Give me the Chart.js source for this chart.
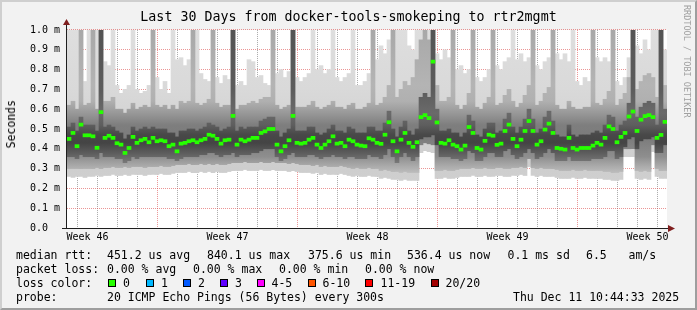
<!DOCTYPE html>
<html>
<head>
<meta charset="utf-8">
<title>Last 30 Days from docker-tools-smokeping to rtr2mgmt</title>
<script src="https://cdn.jsdelivr.net/npm/chart.js@4.4.1/dist/chart.umd.min.js"></script>
<style>
  html, body { margin:0; padding:0; background:#f2f2f2; }
  #wrap { position:relative; width:697px; height:310px; background:#f2f2f2; overflow:hidden;
          font-family:'DejaVu Sans Mono', monospace; color:#000; }
  #chart { position:absolute; left:0; top:0; }
  .t { position:absolute; white-space:pre; font-size:11.5px; line-height:14px; }
  .box { position:absolute; width:6px; height:6px; border:1px solid #000; top:279px; }
  #frame { position:absolute; left:0; top:0; width:697px; height:310px; box-sizing:border-box;
           border-style:solid; border-width:2px; border-color:#cfcfcf #9e9e9e #9e9e9e #cfcfcf; pointer-events:none; }
  #ylabel { position:absolute; left:4px; top:100px; writing-mode:vertical-rl; transform:rotate(180deg);
            font-size:11.5px; line-height:14px; white-space:pre; }
  #wm { position:absolute; left:682px; top:5px; writing-mode:vertical-rl; font-size:8.5px; line-height:10px;
        color:#a0a0a0; white-space:pre; }
</style>
</head>
<body>
<div id="wrap">
  <canvas id="chart" width="697" height="310"></canvas>
  <div id="ylabel">Seconds</div>
  <div id="wm">RRDTOOL / TOBI OETIKER</div>

  <div class="t" style="left:16px;top:247.5px">median rtt:</div>
  <div class="t" style="left:107px;top:247.5px">451.2 us avg</div>
  <div class="t" style="left:207px;top:247.5px">840.1 us max</div>
  <div class="t" style="left:308px;top:247.5px">375.6 us min</div>
  <div class="t" style="left:407px;top:247.5px">536.4 us now</div>
  <div class="t" style="left:507.5px;top:247.5px">0.1 ms sd</div>
  <div class="t" style="left:586px;top:247.5px">6.5</div>
  <div class="t" style="left:628.5px;top:247.5px">am/s</div>

  <div class="t" style="left:16px;top:261.5px">packet loss:</div>
  <div class="t" style="left:107px;top:261.5px">0.00 % avg</div>
  <div class="t" style="left:193px;top:261.5px">0.00 % max</div>
  <div class="t" style="left:279px;top:261.5px">0.00 % min</div>
  <div class="t" style="left:365px;top:261.5px">0.00 % now</div>

  <div class="t" style="left:16px;top:275.5px">loss color:</div>
  <div id="lossLegend"></div>

  <div class="t" style="left:16px;top:289.5px">probe:</div>
  <div class="t" style="left:107px;top:289.5px">20 ICMP Echo Pings (56 Bytes) every 300s</div>
  <div class="t" style="left:513px;top:289.5px">Thu Dec 11 10:44:33 2025</div>
  <div id="frame"></div>
</div>
<script>
// ---------------- data (ms) : one column per 4.8 h, 30 days ----------------
const medianRtt = [
 0.450,0.480,0.413,0.522,0.468,0.468,0.463,0.405,0.585,0.455,
 0.466,0.455,0.428,0.421,0.379,0.404,0.460,0.430,0.443,0.450,
 0.433,0.455,0.438,0.443,0.438,0.413,0.421,0.387,0.426,0.430,
 0.438,0.443,0.433,0.443,0.450,0.471,0.466,0.450,0.426,0.443,
 0.446,0.566,0.421,0.446,0.438,0.446,0.455,0.455,0.480,0.488,
 0.500,0.500,0.421,0.387,0.413,0.443,0.566,0.430,0.426,0.430,
 0.446,0.455,0.421,0.404,0.421,0.438,0.463,0.426,0.430,0.413,
 0.446,0.438,0.421,0.416,0.413,0.453,0.446,0.430,0.425,0.471,
 0.534,0.438,0.387,0.446,0.480,0.430,0.410,0.433,0.560,0.570,
 0.555,0.840,0.533,0.430,0.426,0.443,0.421,0.413,0.396,0.416,
 0.510,0.480,0.404,0.396,0.440,0.471,0.466,0.420,0.426,0.490,
 0.522,0.450,0.413,0.446,0.490,0.540,0.490,0.421,0.438,0.497,
 0.527,0.480,0.404,0.400,0.396,0.455,0.404,0.396,0.404,0.404,
 0.404,0.416,0.430,0.421,0.455,0.513,0.500,0.433,0.460,0.480,
 0.563,0.588,0.490,0.547,0.565,0.570,0.560,0.455,0.470,0.536];

// outer (light) smoke: fastest and slowest ping of each column
const smokeMin = [
 0.260,0.255,0.260,0.260,0.255,0.260,0.260,0.265,0.260,0.265,
 0.265,0.270,0.265,0.265,0.270,0.265,0.270,0.270,0.270,0.265,
 0.270,0.270,0.270,0.275,0.270,0.270,0.275,0.280,0.280,0.280,
 0.285,0.280,0.280,0.285,0.280,0.285,0.280,0.285,0.280,0.280,
 0.285,0.290,0.290,0.290,0.295,0.290,0.290,0.290,0.295,0.290,
 0.290,0.295,0.290,0.290,0.290,0.285,0.290,0.285,0.280,0.280,
 0.280,0.275,0.280,0.270,0.275,0.270,0.270,0.270,0.275,0.270,
 0.265,0.260,0.265,0.260,0.260,0.265,0.260,0.260,0.250,0.255,
 0.250,0.245,0.245,0.240,0.245,0.240,0.240,0.240,0.380,0.390,
 0.385,0.380,0.250,0.250,0.255,0.250,0.250,0.255,0.260,0.260,
 0.260,0.265,0.260,0.260,0.265,0.260,0.260,0.265,0.265,0.260,
 0.260,0.265,0.265,0.270,0.265,0.310,0.265,0.260,0.265,0.260,
 0.260,0.260,0.255,0.250,0.250,0.250,0.255,0.250,0.250,0.255,
 0.250,0.250,0.250,0.250,0.245,0.245,0.240,0.240,0.245,0.360,
 0.360,0.360,0.250,0.245,0.250,0.245,0.385,0.260,0.250,0.250];
const smokeMax = [
 1.05,1.05,1.05,1.05,0.74,1.05,1.05,1.05,1.05,0.84,
 0.82,1.05,0.72,0.68,0.70,0.72,1.05,0.70,0.68,0.69,
 0.72,1.05,0.76,0.70,0.74,0.68,1.05,0.85,0.86,0.82,
 0.85,1.05,1.05,0.78,0.75,0.74,1.05,0.76,0.73,0.77,
 0.75,1.05,0.72,0.74,0.72,0.85,0.84,0.76,0.77,0.73,
 0.72,1.05,0.78,0.80,0.76,0.79,1.05,0.76,0.74,0.76,
 0.78,1.05,0.80,0.82,0.78,0.80,1.05,0.76,0.74,0.76,
 0.78,1.05,0.72,0.72,0.74,0.78,1.05,0.85,0.92,0.88,
 0.95,1.05,1.05,1.05,1.05,0.92,0.90,1.05,1.05,1.05,
 1.05,1.05,0.88,0.85,0.90,0.86,1.05,0.80,0.82,0.78,
 0.80,1.05,0.76,0.74,0.76,0.80,1.05,0.82,0.80,0.84,
 0.86,1.05,0.85,0.88,0.84,0.86,1.05,0.82,0.80,0.84,
 0.86,1.05,0.88,0.85,0.88,0.84,1.05,0.74,0.72,0.76,
 0.74,1.05,0.86,0.84,0.86,0.84,1.05,0.74,0.72,0.76,
 0.86,1.05,0.92,0.88,0.95,0.90,1.05,1.05,1.05,0.90];

// middle smoke band
const smokeLo2 = [
 0.300,0.300,0.300,0.300,0.300,0.300,0.300,0.305,0.300,0.305,
 0.305,0.310,0.305,0.305,0.310,0.305,0.310,0.310,0.310,0.305,
 0.310,0.310,0.310,0.315,0.310,0.310,0.315,0.320,0.320,0.320,
 0.325,0.320,0.320,0.325,0.320,0.325,0.320,0.325,0.320,0.320,
 0.325,0.330,0.330,0.330,0.335,0.330,0.330,0.330,0.335,0.330,
 0.330,0.335,0.330,0.330,0.330,0.325,0.330,0.325,0.320,0.320,
 0.320,0.315,0.320,0.310,0.315,0.310,0.310,0.310,0.315,0.310,
 0.305,0.300,0.305,0.300,0.300,0.305,0.300,0.300,0.290,0.295,
 0.290,0.285,0.285,0.280,0.285,0.280,0.280,0.280,0.420,0.430,
 0.425,0.420,0.290,0.290,0.295,0.290,0.290,0.295,0.300,0.300,
 0.300,0.305,0.300,0.300,0.305,0.300,0.300,0.305,0.305,0.300,
 0.300,0.305,0.305,0.310,0.305,0.350,0.305,0.300,0.305,0.300,
 0.300,0.300,0.295,0.290,0.290,0.290,0.295,0.290,0.290,0.295,
 0.290,0.290,0.290,0.290,0.285,0.285,0.280,0.280,0.285,0.400,
 0.400,0.400,0.290,0.285,0.290,0.285,0.420,0.300,0.290,0.290];
const smokeHi2 = [
 0.62,0.64,0.60,1.05,0.62,0.63,1.05,0.60,1.05,0.64,
 0.64,0.66,0.60,0.60,0.58,0.60,0.63,0.60,0.61,0.62,
 0.61,1.05,0.62,0.61,0.62,0.60,0.62,0.60,0.64,0.63,
 0.64,1.05,0.63,0.62,0.63,0.65,1.05,0.63,0.61,0.62,
 0.62,1.05,0.60,0.62,0.62,0.63,0.64,0.63,0.65,0.66,
 0.66,1.05,0.62,0.60,0.61,0.62,1.05,0.61,0.61,0.61,
 0.62,0.64,0.61,0.60,0.61,0.62,0.64,0.61,0.61,0.60,
 0.62,0.63,0.60,0.60,0.61,0.63,1.05,0.62,0.63,0.66,
 0.72,1.05,0.66,0.70,0.74,0.72,0.76,0.85,0.95,1.05,
 0.95,1.05,0.72,0.64,0.64,0.66,1.05,0.62,0.60,0.62,
 0.68,1.05,0.61,0.60,0.63,0.66,1.05,0.62,0.63,0.67,
 0.70,0.64,0.61,0.63,0.67,0.72,1.05,0.62,0.64,0.68,
 0.71,1.05,0.62,0.60,0.60,0.64,0.61,0.60,0.60,0.61,
 0.61,1.05,0.63,0.62,0.65,0.69,1.05,0.62,0.65,0.68,
 0.76,1.05,0.70,0.74,0.77,0.78,0.76,0.66,1.05,0.72];

// dense (dark) core around the median
const coreLo = [
 0.36,0.36,0.35,0.37,0.36,0.36,0.36,0.35,0.38,0.36,
 0.36,0.36,0.35,0.35,0.33,0.34,0.36,0.35,0.36,0.36,
 0.36,0.36,0.36,0.36,0.36,0.35,0.35,0.34,0.35,0.36,
 0.36,0.36,0.36,0.37,0.37,0.38,0.38,0.37,0.36,0.37,
 0.37,0.38,0.36,0.37,0.37,0.37,0.38,0.38,0.39,0.40,
 0.40,0.40,0.36,0.34,0.35,0.37,0.38,0.36,0.36,0.36,
 0.37,0.37,0.36,0.35,0.36,0.36,0.37,0.36,0.36,0.35,
 0.36,0.36,0.35,0.35,0.35,0.37,0.36,0.36,0.35,0.37,
 0.40,0.36,0.33,0.36,0.38,0.36,0.34,0.36,0.45,0.46,
 0.46,0.47,0.42,0.36,0.36,0.36,0.35,0.35,0.34,0.35,
 0.39,0.38,0.34,0.34,0.36,0.38,0.38,0.36,0.36,0.39,
 0.40,0.37,0.35,0.36,0.38,0.40,0.38,0.35,0.36,0.38,
 0.40,0.38,0.34,0.34,0.34,0.36,0.34,0.34,0.34,0.34,
 0.34,0.35,0.35,0.35,0.36,0.39,0.39,0.35,0.36,0.41,
 0.45,0.46,0.40,0.44,0.45,0.45,0.46,0.38,0.38,0.42];
const coreHi = [
 0.51,0.53,0.49,0.56,0.52,0.52,0.52,0.49,1.05,0.51,
 0.52,0.51,0.49,0.48,0.45,0.47,0.51,0.49,0.50,0.51,
 0.50,0.51,0.50,0.50,0.50,0.48,0.48,0.46,0.49,0.49,
 0.50,0.50,0.49,0.50,0.51,0.53,0.52,0.51,0.49,0.50,
 0.51,1.05,0.49,0.51,0.50,0.51,0.51,0.51,0.54,0.55,
 0.56,0.56,0.49,0.46,0.48,0.50,1.05,0.49,0.49,0.49,
 0.51,0.51,0.48,0.47,0.48,0.50,0.52,0.49,0.49,0.48,
 0.51,0.50,0.48,0.48,0.48,0.51,0.51,0.49,0.49,0.53,
 0.59,0.50,0.46,0.51,0.54,0.49,0.47,0.50,0.66,0.68,
 0.66,1.05,0.60,0.49,0.49,0.50,0.48,0.48,0.46,0.48,
 0.57,0.54,0.47,0.46,0.50,0.53,0.53,0.48,0.49,0.55,
 0.58,0.51,0.48,0.51,0.55,0.60,0.55,0.48,0.50,0.56,
 0.59,0.54,0.47,0.46,0.46,0.52,0.47,0.46,0.47,0.47,
 0.47,0.48,0.49,0.48,0.52,0.57,0.56,0.49,0.52,0.54,
 0.63,1.05,0.56,0.61,0.63,0.64,0.63,0.52,1.05,0.60];

// axis / legend text
const chartTitle = 'Last 30 Days from docker-tools-smokeping to rtr2mgmt';
const weekTickLabels = ['Week 46', 'Week 47', 'Week 48', 'Week 49', 'Week 50'];
const weekTickHours  = [24.6, 192.6, 360.6, 528.6, 696.6];   // hours after graph start
const lossLabels = ['0', '1', '2', '3', '4-5', '6-10', '11-19', '20/20'];
const lossColors = ['#26ff00', '#00b8ff', '#0059ff', '#5e00ff', '#ff00ff', '#ff5500', '#ff0000', '#a10000'];

// time axis setup
const stepHours = 4.8, spanHours = 720;
const firstMidnightHour = 12.4, weekStartDay = 4;
const colHours = medianRtt.map((_, i) => (i + 0.5) * stepHours);

// ---------------- loss colour legend (HTML text) ----------------
(function () {
  const boxX = [108, 145.5, 182.5, 219.5, 256.5, 307.5, 365, 431];
  const txtX = [123, 161, 198, 235, 271.5, 322.5, 380.5, 445.5];
  const host = document.getElementById('lossLegend');
  lossLabels.forEach((lab, i) => {
    const b = document.createElement('div');
    b.className = 'box'; b.style.left = boxX[i] + 'px'; b.style.background = lossColors[i];
    host.appendChild(b);
    const t = document.createElement('div');
    t.className = 't'; t.style.left = txtX[i] + 'px'; t.style.top = '275.5px'; t.textContent = lab;
    host.appendChild(t);
  });
})();

// ---------------- chart ----------------
const MONO = "'DejaVu Sans Mono', monospace";
const STOP_LIGHT = [[0, '#d2d2d2'], [0.3, '#cecece'], [0.5, '#d2d2d2'], [0.7, '#d9d9d9'], [1, '#dedede']];
const STOP_MID = [[0, '#c0c0c0'], [0.28, '#bcbcbc'], [0.32, '#a6a6a6'], [0.36, '#8e8e8e'], [0.45, '#7c7c7c'],
                  [0.52, '#7e7e7e'], [0.58, '#989898'], [0.64, '#b0b0b0'], [0.72, '#b4b4b4'], [1, '#a8a8a8']];
const STOP_DARK = [[0, '#787878'], [0.33, '#787878'], [0.38, '#5c5c5c'], [0.43, '#444444'], [0.47, '#484848'],
                   [0.52, '#5e5e5e'], [0.58, '#6a6a6a'], [0.7, '#5c5c5c'], [1, '#545454']];

function vGrad(chart, stops) {
  const { ctx, chartArea, scales } = chart;
  if (!chartArea || !scales.y) return stops[Math.floor(stops.length / 2)][1];
  const y0 = scales.y.getPixelForValue(0), y1 = scales.y.getPixelForValue(1);
  const g = ctx.createLinearGradient(0, y0, 0, y1);
  stops.forEach(([v, c]) => g.addColorStop(v, c));
  return g;
}

const pairs = (lo, hi) => lo.map((v, i) => ({ x: colHours[i], y: [v, hi[i]] }));
const medianHalf = 0.0078;

const xTickHours = [];
for (let h = firstMidnightHour; h < spanHours; h += 24) xTickHours.push(Math.round(h * 1000) / 1000);
weekTickHours.forEach(h => xTickHours.push(h));

function xGridColor(ctx) {
  const v = ctx.tick ? ctx.tick.value : NaN;
  if (weekTickHours.includes(v)) return 'rgba(0,0,0,0)';
  const day = Math.round((v - firstMidnightHour) / 24);
  return (day - weekStartDay) % 7 === 0 ? 'rgba(222,79,79,0.6)' : 'rgba(143,143,143,0.75)';
}

const plotBg = {
  id: 'plotBg',
  beforeDraw(chart) {
    const { ctx, chartArea: a } = chart;
    ctx.save(); ctx.fillStyle = '#ffffff';
    ctx.fillRect(a.left, a.top, a.right - a.left, a.bottom - a.top);
    ctx.restore();
  }
};

const axisArrows = {
  id: 'axisArrows',
  afterDraw(chart) {
    const { ctx, chartArea: a } = chart;
    const ax = a.left - 0.5, ay = a.bottom + 0.5;
    ctx.save();
    ctx.strokeStyle = '#1f1f1f'; ctx.lineWidth = 1;
    ctx.beginPath();
    ctx.moveTo(ax, ay); ctx.lineTo(ax, a.top - 5);
    ctx.moveTo(a.left - 5, ay); ctx.lineTo(a.right + 1, ay);
    ctx.stroke();
    ctx.fillStyle = '#801f1f';
    ctx.beginPath();
    ctx.moveTo(ax - 3.5, a.top - 5); ctx.lineTo(ax + 3.5, a.top - 5); ctx.lineTo(ax, a.top - 11); ctx.closePath();
    ctx.fill();
    ctx.beginPath();
    ctx.moveTo(a.right + 1, ay - 3.5); ctx.lineTo(a.right + 1, ay + 3.5); ctx.lineTo(a.right + 8, ay); ctx.closePath();
    ctx.fill();
    ctx.restore();
  }
};

const common = { grouped: false, categoryPercentage: 1, barPercentage: 1, borderWidth: 0, clip: 0 };

new Chart(document.getElementById('chart'), {
  type: 'bar',
  data: {
    datasets: [
      { ...common, label: 'median rtt', order: 0, backgroundColor: lossColors[0],
        data: medianRtt.map((v, i) => ({ x: colHours[i], y: [v - medianHalf, v + medianHalf] })) },
      { ...common, label: 'core', order: 1, backgroundColor: c => vGrad(c.chart, STOP_DARK), data: pairs(coreLo, coreHi) },
      { ...common, label: 'smoke mid', order: 2, backgroundColor: c => vGrad(c.chart, STOP_MID), data: pairs(smokeLo2, smokeHi2) },
      { ...common, label: 'smoke', order: 3, backgroundColor: c => vGrad(c.chart, STOP_LIGHT), data: pairs(smokeMin, smokeMax) }
    ]
  },
  options: {
    responsive: false, devicePixelRatio: 1, animation: false, events: [],
    layout: { padding: { left: 30, right: 30, top: 0, bottom: 62 } },
    plugins: {
      legend: { display: false }, tooltip: { enabled: false },
      title: { display: true, text: chartTitle, color: '#000',
               font: { family: MONO, size: 13.3, weight: 'normal', lineHeight: 1.2 },
               padding: { top: 10, bottom: 4 } }
    },
    scales: {
      x: {
        type: 'linear', min: 0, max: spanHours, offset: false, z: 1,
        grid: { offset: false, drawTicks: false, lineWidth: 1, color: xGridColor },
        border: { display: false, dash: [1, 1] },
        afterBuildTicks: s => { s.ticks = xTickHours.map(v => ({ value: v })); },
        afterFit: s => { s.height = 20; },
        ticks: { autoSkip: false, maxRotation: 0, minRotation: 0, padding: 3, color: '#000',
                 font: { family: MONO, size: 10 },
                 callback: v => { const k = weekTickHours.indexOf(v); return k >= 0 ? weekTickLabels[k] : ''; } }
      },
      y: {
        type: 'linear', min: 0, max: 1, z: 1,
        grid: { drawTicks: false, lineWidth: 1, color: 'rgba(222,79,79,0.6)' },
        border: { display: false, dash: [1, 1] },
        afterFit: s => { s.width = 37; },
        ticks: { stepSize: 0.1, crossAlign: 'far', padding: 0, color: '#000',
                 font: { family: MONO, size: 10 },
                 callback: v => Math.abs(v) < 1e-9 ? '0.0' : v.toFixed(1) + ' m' }
      }
    }
  },
  plugins: [plotBg, axisArrows]
});
</script>
</body>
</html>
